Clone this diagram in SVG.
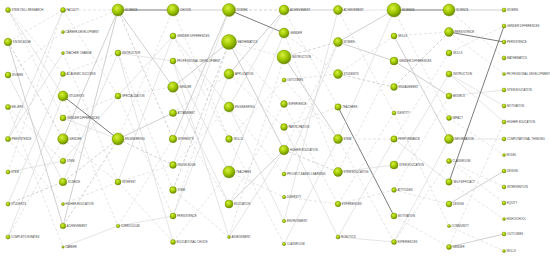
<svg xmlns="http://www.w3.org/2000/svg" width="550" height="262" viewBox="0 0 550 262">
<defs>
<radialGradient id="ng" cx="40%" cy="35%" r="65%">
<stop offset="0%" stop-color="#d8f040"/>
<stop offset="55%" stop-color="#9fc800"/>
<stop offset="100%" stop-color="#6c8a00"/>
</radialGradient>
<style>
circle{fill:url(#ng);stroke:#6a8800;stroke-width:0.4}
text{font-family:"Liberation Sans",Arial,sans-serif;font-size:2.8px;fill:#444}
line{stroke-width:0.55}
.s1{stroke:#d0d0d0}
.s2{stroke:#a8a8a8}
.s3{stroke:#5a5a5a;stroke-width:0.8}
.d1{stroke:#cfcfcf;stroke-dasharray:3 2}
.d2{stroke:#aaaaaa;stroke-dasharray:3 2}
</style>
</defs>
<rect width="550" height="262" fill="#ffffff"/>
<g id="connectors">
<!-- gap 1 -->
<line class="d1" x1="8" y1="10" x2="63" y2="74"/>
<line class="d1" x1="8" y1="10" x2="63" y2="118"/>
<line class="s2" x1="8" y1="42" x2="63" y2="226"/>
<line class="d2" x1="8" y1="42" x2="63" y2="139"/>
<line class="s1" x1="8" y1="75" x2="63" y2="182"/>
<line class="s1" x1="63" y1="10" x2="8" y2="139"/>
<line class="d1" x1="8" y1="107" x2="63" y2="247"/>
<line class="s1" x1="8" y1="139" x2="63" y2="53"/>
<line class="s1" x1="8" y1="172" x2="63" y2="161"/>
<line class="d2" x1="8" y1="204" x2="63" y2="182"/>
<line class="s1" x1="8" y1="237" x2="63" y2="96"/>
<line class="d1" x1="8" y1="75" x2="63" y2="32"/>
<line class="d1" x1="8" y1="172" x2="63" y2="10"/>
<line class="s1" x1="8" y1="204" x2="63" y2="74"/>
<line class="d1" x1="8" y1="139" x2="63" y2="204"/>
<line class="d1" x1="8" y1="42" x2="63" y2="10"/>
<line class="d1" x1="8" y1="107" x2="63" y2="161"/>
<line class="d1" x1="8" y1="237" x2="63" y2="139"/>
<line class="s1" x1="8" y1="10" x2="63" y2="96"/>
<!-- gap 2 -->
<line class="s3" x1="63" y1="96" x2="118" y2="139"/>
<line class="d1" x1="63" y1="10" x2="118" y2="10"/>
<line class="s2" x1="63" y1="139" x2="118" y2="10"/>
<line class="s2" x1="63" y1="226" x2="118" y2="10"/>
<line class="d2" x1="63" y1="182" x2="118" y2="139"/>
<line class="s1" x1="63" y1="247" x2="118" y2="226"/>
<line class="d1" x1="63" y1="204" x2="118" y2="182"/>
<line class="d1" x1="63" y1="118" x2="118" y2="96"/>
<line class="d1" x1="63" y1="74" x2="118" y2="53"/>
<line class="d1" x1="63" y1="32" x2="118" y2="10"/>
<line class="d1" x1="63" y1="53" x2="118" y2="182"/>
<line class="s1" x1="63" y1="161" x2="118" y2="96"/>
<line class="d2" x1="63" y1="226" x2="118" y2="139"/>
<line class="s1" x1="63" y1="182" x2="118" y2="53"/>
<line class="d1" x1="63" y1="96" x2="118" y2="226"/>
<line class="d1" x1="63" y1="10" x2="118" y2="96"/>
<line class="d1" x1="63" y1="139" x2="118" y2="182"/>
<line class="s1" x1="63" y1="118" x2="118" y2="139"/>
<!-- gap 3 -->
<line class="s3" x1="118" y1="10" x2="173" y2="10"/>
<line class="s2" x1="118" y1="10" x2="173" y2="87"/>
<line class="s1" x1="118" y1="53" x2="173" y2="61"/>
<line class="d1" x1="118" y1="96" x2="173" y2="216"/>
<line class="s2" x1="118" y1="139" x2="173" y2="113"/>
<line class="d2" x1="118" y1="139" x2="173" y2="165"/>
<line class="d1" x1="118" y1="182" x2="173" y2="242"/>
<line class="s1" x1="118" y1="226" x2="173" y2="216"/>
<line class="s1" x1="118" y1="182" x2="173" y2="36"/>
<line class="d1" x1="118" y1="53" x2="173" y2="190"/>
<line class="d1" x1="118" y1="139" x2="173" y2="10"/>
<line class="d1" x1="118" y1="226" x2="173" y2="139"/>
<line class="s1" x1="118" y1="96" x2="173" y2="36"/>
<line class="d2" x1="118" y1="10" x2="173" y2="139"/>
<line class="d1" x1="118" y1="96" x2="173" y2="87"/>
<line class="d1" x1="118" y1="182" x2="173" y2="165"/>
<line class="s1" x1="118" y1="53" x2="173" y2="242"/>
<!-- gap 4 -->
<line class="s2" x1="173" y1="10" x2="229" y2="10"/>
<line class="d1" x1="173" y1="36" x2="229" y2="139"/>
<line class="s1" x1="173" y1="61" x2="229" y2="172"/>
<line class="s2" x1="173" y1="87" x2="229" y2="42"/>
<line class="s1" x1="173" y1="87" x2="229" y2="204"/>
<line class="d1" x1="173" y1="113" x2="229" y2="74"/>
<line class="s2" x1="173" y1="139" x2="229" y2="10"/>
<line class="d1" x1="173" y1="165" x2="229" y2="107"/>
<line class="d2" x1="173" y1="190" x2="229" y2="42"/>
<line class="s1" x1="173" y1="216" x2="229" y2="74"/>
<line class="d1" x1="173" y1="242" x2="229" y2="172"/>
<line class="s1" x1="173" y1="61" x2="229" y2="237"/>
<line class="s1" x1="173" y1="36" x2="229" y2="107"/>
<line class="d1" x1="173" y1="190" x2="229" y2="237"/>
<line class="d1" x1="173" y1="10" x2="229" y2="139"/>
<line class="d1" x1="173" y1="113" x2="229" y2="204"/>
<line class="d1" x1="173" y1="216" x2="229" y2="42"/>
<line class="s1" x1="173" y1="165" x2="229" y2="10"/>
<!-- gap 5 -->
<line class="d2" x1="229" y1="10" x2="284" y2="10"/>
<line class="s3" x1="229" y1="10" x2="284" y2="33"/>
<line class="s2" x1="229" y1="74" x2="284" y2="10"/>
<line class="s1" x1="229" y1="107" x2="284" y2="10"/>
<line class="d1" x1="229" y1="42" x2="284" y2="57"/>
<line class="s2" x1="229" y1="42" x2="284" y2="150"/>
<line class="d1" x1="229" y1="74" x2="284" y2="127"/>
<line class="d1" x1="229" y1="107" x2="284" y2="174"/>
<line class="d1" x1="229" y1="139" x2="284" y2="80"/>
<line class="s1" x1="229" y1="172" x2="284" y2="33"/>
<line class="d1" x1="229" y1="172" x2="284" y2="197"/>
<line class="s2" x1="229" y1="204" x2="284" y2="150"/>
<line class="d1" x1="229" y1="204" x2="284" y2="104"/>
<line class="s1" x1="229" y1="237" x2="284" y2="150"/>
<line class="d1" x1="229" y1="139" x2="284" y2="244"/>
<line class="s1" x1="229" y1="107" x2="284" y2="221"/>
<line class="d1" x1="229" y1="42" x2="284" y2="104"/>
<line class="d1" x1="229" y1="237" x2="284" y2="57"/>
<!-- gap 6 -->
<line class="s2" x1="284" y1="10" x2="338" y2="10"/>
<line class="d1" x1="284" y1="33" x2="338" y2="172"/>
<line class="s2" x1="284" y1="57" x2="338" y2="139"/>
<line class="d2" x1="284" y1="57" x2="338" y2="42"/>
<line class="d1" x1="284" y1="80" x2="338" y2="74"/>
<line class="d1" x1="284" y1="104" x2="338" y2="204"/>
<line class="d1" x1="284" y1="127" x2="338" y2="107"/>
<line class="d2" x1="284" y1="150" x2="338" y2="172"/>
<line class="s1" x1="284" y1="174" x2="338" y2="42"/>
<line class="d1" x1="284" y1="197" x2="338" y2="204"/>
<line class="s1" x1="284" y1="221" x2="338" y2="10"/>
<line class="s1" x1="284" y1="244" x2="338" y2="139"/>
<line class="d1" x1="284" y1="10" x2="338" y2="107"/>
<line class="d1" x1="284" y1="33" x2="338" y2="74"/>
<line class="s1" x1="284" y1="127" x2="338" y2="237"/>
<line class="d1" x1="284" y1="150" x2="338" y2="42"/>
<line class="d1" x1="284" y1="80" x2="338" y2="139"/>
<!-- gap 7 -->
<line class="s1" x1="338" y1="10" x2="394" y2="10"/>
<line class="s2" x1="338" y1="42" x2="394" y2="10"/>
<line class="s2" x1="338" y1="42" x2="394" y2="61"/>
<line class="d2" x1="338" y1="74" x2="394" y2="87"/>
<line class="s3" x1="338" y1="107" x2="394" y2="216"/>
<line class="d1" x1="338" y1="139" x2="394" y2="139"/>
<line class="s1" x1="338" y1="172" x2="394" y2="165"/>
<line class="d1" x1="338" y1="204" x2="394" y2="113"/>
<line class="s1" x1="338" y1="237" x2="394" y2="242"/>
<line class="d1" x1="338" y1="204" x2="394" y2="190"/>
<line class="d1" x1="338" y1="74" x2="394" y2="36"/>
<line class="s1" x1="338" y1="139" x2="394" y2="10"/>
<line class="d1" x1="338" y1="172" x2="394" y2="61"/>
<line class="s1" x1="338" y1="237" x2="394" y2="139"/>
<line class="d1" x1="338" y1="10" x2="394" y2="113"/>
<line class="d1" x1="338" y1="139" x2="394" y2="242"/>
<!-- gap 8 -->
<line class="s3" x1="394" y1="10" x2="449" y2="10"/>
<line class="s2" x1="394" y1="36" x2="449" y2="139"/>
<line class="s2" x1="394" y1="61" x2="449" y2="96"/>
<line class="d2" x1="394" y1="87" x2="449" y2="32"/>
<line class="d1" x1="394" y1="139" x2="449" y2="53"/>
<line class="s1" x1="394" y1="165" x2="449" y2="74"/>
<line class="d1" x1="394" y1="190" x2="449" y2="204"/>
<line class="d1" x1="394" y1="216" x2="449" y2="247"/>
<line class="s1" x1="394" y1="242" x2="449" y2="139"/>
<line class="d1" x1="394" y1="113" x2="449" y2="226"/>
<line class="d1" x1="394" y1="10" x2="449" y2="118"/>
<line class="s1" x1="394" y1="139" x2="449" y2="182"/>
<line class="d1" x1="394" y1="242" x2="449" y2="161"/>
<line class="d1" x1="394" y1="36" x2="449" y2="32"/>
<line class="d1" x1="394" y1="190" x2="449" y2="96"/>
<!-- gap 9 -->
<line class="s2" x1="449" y1="10" x2="504" y2="10"/>
<line class="d1" x1="449" y1="10" x2="504" y2="58"/>
<line class="s3" x1="449" y1="32" x2="504" y2="42"/>
<line class="d1" x1="449" y1="32" x2="504" y2="74"/>
<line class="d1" x1="449" y1="53" x2="504" y2="26"/>
<line class="s1" x1="449" y1="74" x2="504" y2="106"/>
<line class="s1" x1="449" y1="96" x2="504" y2="90"/>
<line class="d1" x1="449" y1="118" x2="504" y2="155"/>
<line class="s3" x1="449" y1="182" x2="504" y2="26"/>
<line class="s1" x1="449" y1="139" x2="504" y2="139"/>
<line class="d1" x1="449" y1="161" x2="504" y2="203"/>
<line class="s2" x1="449" y1="204" x2="504" y2="171"/>
<line class="s2" x1="449" y1="247" x2="504" y2="234"/>
<line class="d1" x1="449" y1="226" x2="504" y2="251"/>
<line class="d1" x1="449" y1="182" x2="504" y2="219"/>
<line class="d1" x1="449" y1="161" x2="504" y2="187"/>
<line class="d1" x1="449" y1="247" x2="504" y2="122"/>
<line class="s1" x1="449" y1="74" x2="504" y2="122"/>
</g>
<g id="nodes">
<g id="c1-stem-cell-research"><circle cx="8" cy="10" r="2.5"/><text x="11.5" y="11">STEM CELL RESEARCH</text></g>
<g id="c1-knowledge"><circle cx="8" cy="42" r="3.8"/><text x="12.8" y="43">KNOWLEDGE</text></g>
<g id="c1-women"><circle cx="8" cy="75" r="3"/><text x="12" y="76">WOMEN</text></g>
<g id="c1-beliefs"><circle cx="8" cy="107" r="2.6"/><text x="11.6" y="108">BELIEFS</text></g>
<g id="c1-persistence"><circle cx="8" cy="139" r="2.6"/><text x="11.6" y="140">PERSISTENCE</text></g>
<g id="c1-stem"><circle cx="8" cy="172" r="2.1"/><text x="11" y="173">STEM</text></g>
<g id="c1-students"><circle cx="8" cy="204" r="2.1"/><text x="11" y="205">STUDENTS</text></g>
<g id="c1-completion-rates"><circle cx="8" cy="237" r="2.1"/><text x="11" y="238">COMPLETION RATES</text></g>

<g id="c2-faculty"><circle cx="63" cy="10" r="2.5"/><text x="66.5" y="11">FACULTY</text></g>
<g id="c2-career-development"><circle cx="63" cy="32" r="1.5"/><text x="65.5" y="33">CAREER DEVELOPMENT</text></g>
<g id="c2-teacher-change"><circle cx="63" cy="53" r="1.5"/><text x="65.5" y="54">TEACHER CHANGE</text></g>
<g id="c2-academic-success"><circle cx="63" cy="74" r="2.5"/><text x="66.5" y="75">ACADEMIC SUCCESS</text></g>
<g id="c2-students"><circle cx="63" cy="96" r="5"/><text x="69" y="97">STUDENTS</text></g>
<g id="c2-gender-differences"><circle cx="63" cy="118" r="3"/><text x="67" y="119">GENDER DIFFERENCES</text></g>
<g id="c2-gender"><circle cx="63" cy="139" r="5.3"/><text x="69.3" y="140">GENDER</text></g>
<g id="c2-stem"><circle cx="63" cy="161" r="2.8"/><text x="66.8" y="162">STEM</text></g>
<g id="c2-science"><circle cx="63" cy="182" r="3.8"/><text x="67.8" y="183">SCIENCE</text></g>
<g id="c2-higher-education"><circle cx="63" cy="204" r="1.5"/><text x="65.5" y="205">HIGHER EDUCATION</text></g>
<g id="c2-achievement"><circle cx="63" cy="226" r="2.8"/><text x="66.8" y="227">ACHIEVEMENT</text></g>
<g id="c2-career"><circle cx="63" cy="247" r="1.2"/><text x="65.2" y="248">CAREER</text></g>

<g id="c3-science"><circle cx="118" cy="10" r="6"/><text x="125" y="11">SCIENCE</text></g>
<g id="c3-instructor"><circle cx="118" cy="53" r="3"/><text x="122" y="54">INSTRUCTOR</text></g>
<g id="c3-specialization"><circle cx="118" cy="96" r="3"/><text x="122" y="97">SPECIALIZATION</text></g>
<g id="c3-engineering"><circle cx="118" cy="139" r="6"/><text x="125" y="140">ENGINEERING</text></g>
<g id="c3-interest"><circle cx="118" cy="182" r="3"/><text x="122" y="183">INTEREST</text></g>
<g id="c3-curriculum"><circle cx="118" cy="226" r="1.8"/><text x="120.8" y="227">CURRICULUM</text></g>

<g id="c4-choice"><circle cx="173" cy="10" r="6"/><text x="180" y="11">CHOICE</text></g>
<g id="c4-gender-differences"><circle cx="173" cy="36" r="3"/><text x="177" y="37">GENDER DIFFERENCES</text></g>
<g id="c4-professional-development"><circle cx="173" cy="61" r="3"/><text x="177" y="62">PROFESSIONAL DEVELOPMENT</text></g>
<g id="c4-gender"><circle cx="173" cy="87" r="5.3"/><text x="179.3" y="88">GENDER</text></g>
<g id="c4-attainment"><circle cx="173" cy="113" r="3.6"/><text x="177.6" y="114">ATTAINMENT</text></g>
<g id="c4-interests"><circle cx="173" cy="139" r="3.8"/><text x="177.8" y="140">INTERESTS</text></g>
<g id="c4-knowledge"><circle cx="173" cy="165" r="3.4"/><text x="177.4" y="166">KNOWLEDGE</text></g>
<g id="c4-stem"><circle cx="173" cy="190" r="3.4"/><text x="177.4" y="191">STEM</text></g>
<g id="c4-persistence"><circle cx="173" cy="216" r="3"/><text x="177" y="217">PERSISTENCE</text></g>
<g id="c4-educational-choice"><circle cx="173" cy="242" r="2.5"/><text x="176.5" y="243">EDUCATIONAL CHOICE</text></g>

<g id="c5-women"><circle cx="229" cy="10" r="6.5"/><text x="236.5" y="11">WOMEN</text></g>
<g id="c5-mathematics"><circle cx="229" cy="42" r="7.5"/><text x="237.5" y="43">MATHEMATICS</text></g>
<g id="c5-application"><circle cx="229" cy="74" r="5"/><text x="235" y="75">APPLICATION</text></g>
<g id="c5-engineering"><circle cx="229" cy="107" r="5"/><text x="235" y="108">ENGINEERING</text></g>
<g id="c5-skills"><circle cx="229" cy="139" r="3.4"/><text x="233.4" y="140">SKILLS</text></g>
<g id="c5-teachers"><circle cx="229" cy="172" r="6"/><text x="236" y="173">TEACHERS</text></g>
<g id="c5-education"><circle cx="229" cy="204" r="4"/><text x="234" y="205">EDUCATION</text></g>
<g id="c5-assessment"><circle cx="229" cy="237" r="1.5"/><text x="231.5" y="238">ASSESSMENT</text></g>

<g id="c6-achievement"><circle cx="284" cy="10" r="5"/><text x="290" y="11">ACHIEVEMENT</text></g>
<g id="c6-gender"><circle cx="284" cy="33" r="5"/><text x="290" y="34">GENDER</text></g>
<g id="c6-instruction"><circle cx="284" cy="57" r="7"/><text x="292" y="58">INSTRUCTION</text></g>
<g id="c6-outcomes"><circle cx="284" cy="80" r="2"/><text x="287" y="81">OUTCOMES</text></g>
<g id="c6-experience"><circle cx="284" cy="104" r="3.4"/><text x="288.4" y="105">EXPERIENCE</text></g>
<g id="c6-participation"><circle cx="284" cy="127" r="3.4"/><text x="288.4" y="128">PARTICIPATION</text></g>
<g id="c6-higher-education"><circle cx="284" cy="150" r="4.8"/><text x="289.8" y="151">HIGHER EDUCATION</text></g>
<g id="c6-project-based-learning"><circle cx="284" cy="174" r="2"/><text x="287" y="175">PROJECT-BASED LEARNING</text></g>
<g id="c6-diversity"><circle cx="284" cy="197" r="1.7"/><text x="286.7" y="198">DIVERSITY</text></g>
<g id="c6-environment"><circle cx="284" cy="221" r="1.7"/><text x="286.7" y="222">ENVIRONMENT</text></g>
<g id="c6-classroom"><circle cx="284" cy="244" r="1.7"/><text x="286.7" y="245">CLASSROOM</text></g>

<g id="c7-achievement"><circle cx="338" cy="10" r="4.5"/><text x="343.5" y="11">ACHIEVEMENT</text></g>
<g id="c7-women"><circle cx="338" cy="42" r="4.5"/><text x="343.5" y="43">WOMEN</text></g>
<g id="c7-students"><circle cx="338" cy="74" r="4.5"/><text x="343.5" y="75">STUDENTS</text></g>
<g id="c7-teachers"><circle cx="338" cy="107" r="3.2"/><text x="342.2" y="108">TEACHERS</text></g>
<g id="c7-stem"><circle cx="338" cy="139" r="4.5"/><text x="343.5" y="140">STEM</text></g>
<g id="c7-stem-education"><circle cx="338" cy="172" r="4.5"/><text x="343.5" y="173">STEM EDUCATION</text></g>
<g id="c7-experiences"><circle cx="338" cy="204" r="2.8"/><text x="341.8" y="205">EXPERIENCES</text></g>
<g id="c7-robotics"><circle cx="338" cy="237" r="2"/><text x="341" y="238">ROBOTICS</text></g>

<g id="c8-science"><circle cx="394" cy="10" r="7"/><text x="402" y="11">SCIENCE</text></g>
<g id="c8-skills"><circle cx="394" cy="36" r="3"/><text x="398" y="37">SKILLS</text></g>
<g id="c8-gender-differences"><circle cx="394" cy="61" r="4"/><text x="399" y="62">GENDER DIFFERENCES</text></g>
<g id="c8-engagement"><circle cx="394" cy="87" r="3.4"/><text x="398.4" y="88">ENGAGEMENT</text></g>
<g id="c8-identity"><circle cx="394" cy="113" r="2"/><text x="397" y="114">IDENTITY</text></g>
<g id="c8-performance"><circle cx="394" cy="139" r="3.2"/><text x="398.2" y="140">PERFORMANCE</text></g>
<g id="c8-stem-education"><circle cx="394" cy="165" r="4"/><text x="399" y="166">STEM EDUCATION</text></g>
<g id="c8-attitudes"><circle cx="394" cy="190" r="2.4"/><text x="397.4" y="191">ATTITUDES</text></g>
<g id="c8-motivation"><circle cx="394" cy="216" r="3"/><text x="398" y="217">MOTIVATION</text></g>
<g id="c8-experiences"><circle cx="394" cy="242" r="2.5"/><text x="397.5" y="243">EXPERIENCES</text></g>

<g id="c9-science"><circle cx="449" cy="10" r="6"/><text x="456" y="11">SCIENCE</text></g>
<g id="c9-persistence"><circle cx="449" cy="32" r="4.5"/><text x="454.5" y="33">PERSISTENCE</text></g>
<g id="c9-skills"><circle cx="449" cy="53" r="3"/><text x="453" y="54">SKILLS</text></g>
<g id="c9-instruction"><circle cx="449" cy="74" r="3"/><text x="453" y="75">INSTRUCTION</text></g>
<g id="c9-models"><circle cx="449" cy="96" r="3"/><text x="453" y="97">MODELS</text></g>
<g id="c9-impact"><circle cx="449" cy="118" r="2.5"/><text x="452.5" y="119">IMPACT</text></g>
<g id="c9-information"><circle cx="449" cy="139" r="4.5"/><text x="454.5" y="140">INFORMATION</text></g>
<g id="c9-classroom"><circle cx="449" cy="161" r="2.5"/><text x="452.5" y="162">CLASSROOM</text></g>
<g id="c9-self-efficacy"><circle cx="449" cy="182" r="3.2"/><text x="453.2" y="183">SELF-EFFICACY</text></g>
<g id="c9-design"><circle cx="449" cy="204" r="3"/><text x="453" y="205">DESIGN</text></g>
<g id="c9-community"><circle cx="449" cy="226" r="1.6"/><text x="451.6" y="227">COMMUNITY</text></g>
<g id="c9-gender"><circle cx="449" cy="247" r="2.5"/><text x="452.5" y="248">GENDER</text></g>

<g id="c10-women"><circle cx="504" cy="10" r="2"/><text x="507" y="11">WOMEN</text></g>
<g id="c10-gender-differences"><circle cx="504" cy="26" r="2"/><text x="507" y="27">GENDER DIFFERENCES</text></g>
<g id="c10-persistence"><circle cx="504" cy="42" r="2"/><text x="507" y="43">PERSISTENCE</text></g>
<g id="c10-mathematics"><circle cx="504" cy="58" r="2"/><text x="507" y="59">MATHEMATICS</text></g>
<g id="c10-professional-development"><circle cx="504" cy="74" r="1.5"/><text x="506.5" y="75">PROFESSIONAL DEVELOPMENT</text></g>
<g id="c10-stem-education"><circle cx="504" cy="90" r="2"/><text x="507" y="91">STEM EDUCATION</text></g>
<g id="c10-motivation"><circle cx="504" cy="106" r="2"/><text x="507" y="107">MOTIVATION</text></g>
<g id="c10-higher-education"><circle cx="504" cy="122" r="2"/><text x="507" y="123">HIGHER EDUCATION</text></g>
<g id="c10-computational-thinking"><circle cx="504" cy="139" r="2"/><text x="507" y="140">COMPUTATIONAL THINKING</text></g>
<g id="c10-model"><circle cx="504" cy="155" r="1.5"/><text x="506.5" y="156">MODEL</text></g>
<g id="c10-design"><circle cx="504" cy="171" r="2"/><text x="507" y="172">DESIGN</text></g>
<g id="c10-intervention"><circle cx="504" cy="187" r="2"/><text x="507" y="188">INTERVENTION</text></g>
<g id="c10-equity"><circle cx="504" cy="203" r="2"/><text x="507" y="204">EQUITY</text></g>
<g id="c10-high-school"><circle cx="504" cy="219" r="1.5"/><text x="506.5" y="220">HIGH SCHOOL</text></g>
<g id="c10-outcomes"><circle cx="504" cy="234" r="2"/><text x="507" y="235">OUTCOMES</text></g>
<g id="c10-skills"><circle cx="504" cy="251" r="1.5"/><text x="506.5" y="252">SKILLS</text></g>
</g>
</svg>
